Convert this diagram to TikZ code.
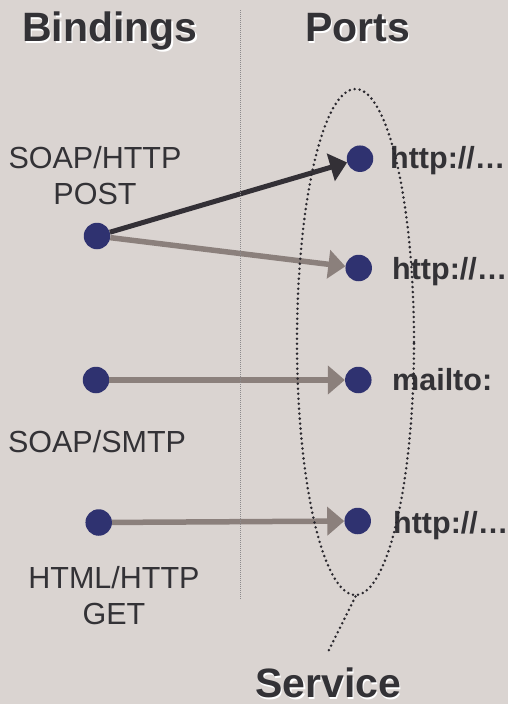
\documentclass[tikz,border=0pt]{standalone}
\usepackage{fontspec}
\setmainfont{Liberation Sans}
\usetikzlibrary{arrows.meta,shapes.geometric}
\definecolor{bgc}{RGB}{218,212,209}
\definecolor{nodeblue}{RGB}{47,50,112}
\definecolor{darkc}{RGB}{51,48,54}
\definecolor{dotc}{RGB}{42,40,46}
\definecolor{grayc}{RGB}{139,128,124}
\definecolor{textc}{RGB}{51,50,54}
\definecolor{divc}{RGB}{140,138,140}
\tikzset{
  dotnode/.style={circle, fill=nodeblue, minimum size=26.5pt, inner sep=0pt},
  lbl/.style={font=\fontsize{30.5}{36.5}\selectfont, text=textc, inner sep=0pt},
  plbl/.style={font=\bfseries\fontsize{30.5}{36.5}\selectfont, text=textc, inner sep=0pt, anchor=base west},
  ttl/.style={font=\bfseries\fontsize{41}{48}\selectfont, text=textc, inner sep=0pt, anchor=base west},
  ttlshadow/.style={font=\bfseries\fontsize{41}{48}\selectfont, text=white, inner sep=0pt, anchor=base west},
  darkarrow/.style={draw=darkc, line width=5pt, -{Triangle[length=17pt,width=28pt]}},
  grayarrow/.style={draw=grayc, line width=5.5pt, -{Triangle[length=17pt,width=28pt]}},
  dotline/.style={draw=dotc, line width=2.8pt, line cap=round, dash pattern=on 0pt off 5pt},
  divline/.style={draw=divc, line width=1pt, dash pattern=on 1pt off 1pt}
}
\begin{document}
\begin{tikzpicture}[x=1pt,y=-1pt]
\fill[bgc] (0,0) rectangle (508,704);
\useasboundingbox (0,0) rectangle (508,704);
% titles
\node[ttlshadow] (bindsh) at (23.5,43.2) {Bindings};
\node[ttl] (bind) at (22,41.7) {Bindings};
\node[ttlshadow] (portsh) at (306.5,43.2) {Ports};
\node[ttl] (ports) at (305,41.7) {Ports};
\node[ttlshadow] (servsh) at (256.5,699.2) {Service};
\node[ttl] (serv) at (255,697.7) {Service};
% binding labels
\node[lbl, anchor=north, align=center] (l1) at (95,146) {SOAP/HTTP\\POST};
\node[lbl, anchor=base] (l2) at (97,452) {SOAP/SMTP};
\node[lbl, anchor=north, align=center] (l3) at (114,566) {HTML/HTTP\\GET};
% binding dots
\node[dotnode] (b1) at (97,236) {};
\node[dotnode] (b2) at (96,380) {};
\node[dotnode] (b3) at (98.7,522.5) {};
% port dots
\node[dotnode] (p1) at (360,158.7) {};
\node[dotnode] (p2) at (358.7,268) {};
\node[dotnode] (p3) at (358.3,380) {};
\node[dotnode] (p4) at (357.7,521) {};
% port labels
\node[plbl] (pl1) at (390,168) {http://…};
\node[plbl] (pl2) at (392,279) {http://…};
\node[plbl] (pl3) at (392,390) {mailto:};
\node[plbl] (pl4) at (393,533) {http://…};
% arrows
\draw[grayarrow] (b1) -- (p2);
\draw[darkarrow] (b1) -- (p1);
\draw[grayarrow] (b2) -- (p3);
\draw[grayarrow] (b3) -- (p4);
% divider
\coordinate (dtop) at (240,10);
\coordinate (dbot) at (240,600);
\draw[divline] (dtop) -- (dbot);
% service ellipse
\node[ellipse, dotline, minimum width=117pt, minimum height=506pt, inner sep=0pt] (svc) at (355.5,342) {};
\coordinate (ptr) at (328,652);
\draw[dotline] (svc.south) -- (ptr);
\end{tikzpicture}
\end{document}
